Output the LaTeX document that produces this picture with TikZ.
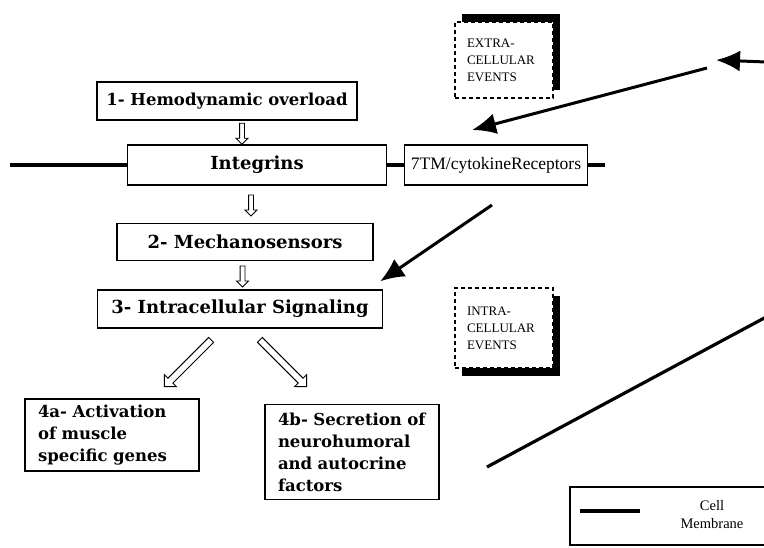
\documentclass[tikz,border=0pt]{standalone}
\usepackage{fontspec}
\setmainfont{Liberation Serif}
\newfontfamily\boxfont{DejaVu Serif}
\usetikzlibrary{arrows.meta,positioning,calc,shapes.arrows,shadows}

\begin{document}
\begin{tikzpicture}[
    x=1pt, y=-1pt,
    font=\boxfont\bfseries\fontsize{18}{22}\selectfont,
    % node styles
    stage/.style={rectangle, draw=black, line width=1.3pt, fill=white, text centered, inner sep=2pt},
    outcome/.style={rectangle, draw=black, line width=1.3pt, fill=white, align=left, text width=148pt, inner xsep=13pt, inner ysep=6pt, font=\boxfont\bfseries\fontsize{16.5}{22}\selectfont},
    receptor/.style={stage, font=\rmfamily\mdseries\fontsize{17.5}{20}\selectfont},
    events/.style={rectangle, draw=black, fill=white, line width=1.1pt, dash pattern=on 4pt off 3pt, align=left, text width=74pt, inner xsep=12pt, minimum height=78pt, font=\rmfamily\mdseries\fontsize{13}{17}\selectfont},
    hollow/.style={single arrow, draw=black, fill=white, line width=0.9pt, inner sep=2pt, single arrow head extend=3.5pt, single arrow head indent=0pt},
    membrane/.style={line width=3.2pt},
    signal/.style={line width=3pt, -{Latex[length=24pt, width=21pt]}},
    legendbox/.style={rectangle, draw=black, line width=1.1pt, minimum width=200pt, minimum height=58pt}
]
\useasboundingbox (0,0) rectangle (764,547);

% boxes of the cascade
\node (hemo) [stage, minimum width=260pt, minimum height=38pt, font=\boxfont\bfseries\fontsize{16.5}{20}\selectfont] at (227,101) {1- Hemodynamic overload};
\node (integ) [stage, minimum width=259pt, minimum height=40pt] at (257,165) {Integrins};
\node (tm7) [receptor, minimum width=183pt, minimum height=40pt] at (496,165) {7TM/cytokineReceptors};
\node (mech) [stage, minimum width=256pt, minimum height=37pt] at (245,242) {2- Mechanosensors};
\node (intra) [stage, minimum width=285pt, minimum height=38pt] at (240,309) {3- Intracellular Signaling};
\node (genes) [outcome, minimum height=70pt] at (112,435) {4a- Activation\\of muscle\\specific genes};
\node (factors) [outcome, minimum height=95pt] at (352,452) {4b- Secretion of\\neurohumoral\\and autocrine\\factors};

% event labels
\node (extra) [events, minimum height=76pt, drop shadow={shadow xshift=7pt, shadow yshift=8pt, fill=black, opacity=1}] at (504,60) {EXTRA-\\CELLULAR\\EVENTS};
\node (intraev) [events, minimum height=80pt, drop shadow={shadow xshift=7pt, shadow yshift=-8pt, fill=black, opacity=1}] at (504,328) {INTRA-\\CELLULAR\\EVENTS};

% cell membrane
\coordinate (memL) at (10,165);
\coordinate (memR) at (605,165);
\draw [membrane] (memL) -- (integ.west);
\draw [membrane] (integ.east) -- (tm7.west);
\draw [membrane] (tm7.east) -- (memR);

% hollow arrows
\node (down1) [hollow, minimum height=21pt, rotate=-90] at ($(hemo.south)!0.5!(integ.north)$) {};
\node (down2) [hollow, minimum height=21pt, rotate=-90] at ($(integ.south)!0.5!(mech.north)$) {};
\node (down3) [hollow, minimum height=21pt, rotate=-90] at ($(mech.south)!0.5!(intra.north)$) {};
\node (toGenes) [hollow, minimum height=66pt, inner sep=3pt, single arrow head extend=5pt, rotate=225] at (189,362) {};
\node (toFactors) [hollow, minimum height=66pt, inner sep=3pt, single arrow head extend=5pt, rotate=-45] at (282,362) {};

% signals from outside
\coordinate (sigA) at (766,62);
\coordinate (tipA) at (716,60);
\coordinate (sigB) at (707,68);
\coordinate (tipB) at (472,130);
\coordinate (sigC) at (492,205);
\draw [signal] (sigA) -- (tipA);
\draw [signal] (sigB) -- (tipB);
\draw [signal] (sigC) -- ($(intra.north east)+(-3,-8)$);

% diagonal membrane
\coordinate (cutA) at (487,467);
\coordinate (cutB) at (768,316);
\draw [membrane] (cutA) -- (cutB);

% legend
\node (legend) [legendbox] at (670,516) {};
\coordinate (legL) at ($(legend.west)+(11,-5)$);
\coordinate (legR) at ($(legend.west)+(71,-5)$);
\draw [membrane] (legL) -- (legR);
\node (legtext) [font=\rmfamily\mdseries\fontsize{14.5}{18}\selectfont, align=center] at ($(legend.center)+(42,-1)$) {Cell\\Membrane};
\end{tikzpicture}
\end{document}
